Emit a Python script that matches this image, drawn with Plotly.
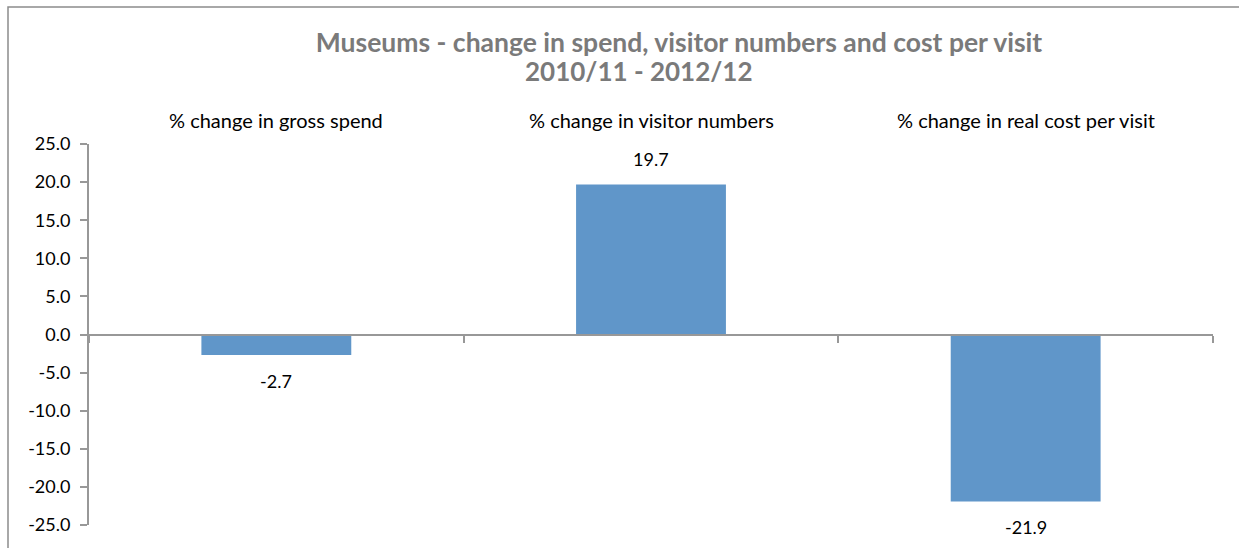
import plotly.graph_objects as go

# Chart data
categories = [
    "% change in gross spend",
    "% change in visitor numbers",
    "% change in real cost per visit",
]
values = [-2.7, 19.7, -21.9]
y_ticks = [25, 20, 15, 10, 5, 0, -5, -10, -15, -20, -25]

title_line1 = "Museums - change in spend, visitor numbers and cost per visit"
title_line2 = "2010/11 - 2012/12"

FONT = "Lato"
AXIS_GREY = "#989898"
BAR_BLUE = "#6096C9"
TITLE_GREY = "#7A7A7A"

W, H = 1239, 548
ML, MR, MT, MB = 89, 26, 144, 23
plot_w = W - ML - MR
plot_h = H - MT - MB

x_pos = list(range(len(categories)))

fig = go.Figure()
fig.add_trace(go.Bar(
    x=x_pos,
    y=values,
    width=0.4,
    marker=dict(color=BAR_BLUE, line=dict(width=0)),
    hoverinfo="skip",
))

# value labels just outside each bar end
for xi, v in zip(x_pos, values):
    fig.add_annotation(
        x=xi, y=v, xref="x", yref="y",
        text=f"{v:.1f}",
        showarrow=False,
        yanchor="middle",
        yshift=25 if v >= 0 else -26,
        font=dict(family=FONT, size=18, color="black"),
    )

# category labels above the plot area
for xi, c in zip(x_pos, categories):
    fig.add_annotation(
        x=xi, y=1, xref="x", yref="paper",
        text=c,
        showarrow=False,
        yanchor="middle",
        yshift=24,
        font=dict(family=FONT, size=20, color="black"),
    )

# second title line, centred on its own
fig.add_annotation(
    x=(639 - ML) / plot_w, xref="paper", xanchor="center",
    y=(H - MB - 71) / plot_h, yref="paper", yanchor="middle",
    text=f"<b>{title_line2}</b>",
    showarrow=False,
    font=dict(family=FONT, size=26, color=TITLE_GREY),
)

# outer chart frame (right and bottom edges run past the page)
fig.add_shape(
    type="rect", xref="paper", yref="paper",
    x0=(8 - ML) / plot_w, x1=1.2,
    y0=-0.3, y1=(H - MB - 7) / plot_h,
    line=dict(color="#8C8C8C", width=1.5),
    fillcolor="rgba(0,0,0,0)",
    layer="below",
)

fig.update_layout(
    width=W, height=H,
    margin=dict(l=ML, r=MR, t=MT, b=MB, pad=0),
    paper_bgcolor="white",
    plot_bgcolor="white",
    showlegend=False,
    title=dict(
        text=f"<b>{title_line1}</b>",
        font=dict(family=FONT, size=26.5, color=TITLE_GREY),
        xref="paper", x=(679 - ML) / plot_w, xanchor="center",
        yref="container", y=1 - 43 / H, yanchor="middle",
    ),
    xaxis=dict(
        range=[-0.5, 2.5],
        anchor="free", position=0.5,
        showline=True, linecolor=AXIS_GREY, linewidth=2,
        tickvals=[-0.5, 0.5, 1.5, 2.5],
        ticks="outside", ticklen=7, tickcolor=AXIS_GREY, tickwidth=2,
        showticklabels=False,
        showgrid=False, zeroline=False,
        fixedrange=True,
    ),
    yaxis=dict(
        range=[-25, 25],
        tickvals=y_ticks,
        ticktext=[f"{t:.1f}" for t in y_ticks],
        showline=True, linecolor=AXIS_GREY, linewidth=2,
        ticks="outside", ticklen=7, tickcolor=AXIS_GREY, tickwidth=2,
        tickfont=dict(family=FONT, size=18, color="black"),
        ticklabelstandoff=6,
        showgrid=False, zeroline=False,
        fixedrange=True,
    ),
)

fig.write_html("out.html")
